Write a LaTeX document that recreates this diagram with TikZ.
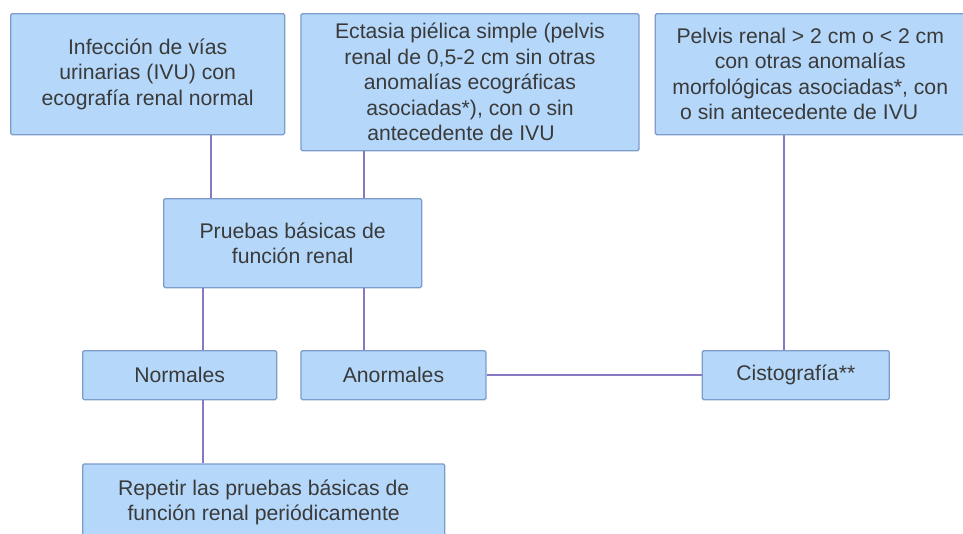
\documentclass[tikz,border=0pt]{standalone}
\usepackage{fontspec}
\setmainfont{Liberation Sans}
\usetikzlibrary{positioning}
\definecolor{boxFill}{HTML}{B5D8FA}
\definecolor{boxEdge}{HTML}{7C9CCB}
\definecolor{linkPurple}{HTML}{8878C3}
\definecolor{textGrey}{HTML}{3A3A3A}

\begin{document}
\begin{tikzpicture}[
    x=1pt, y=1pt,
    every node/.style={font=\fontsize{21.2}{25.5}\selectfont, text=textGrey},
    box/.style={rectangle, draw=boxEdge, line width=1.3pt, fill=boxFill, rounded corners=1.5pt, align=center, inner sep=2pt, anchor=north west},
    link/.style={draw=linkPurple, line width=2pt}
  ]
  \useasboundingbox (0,0) rectangle (963,-533);

  % Nodos
  \node[box, minimum width=274pt, minimum height=121pt] (infeccion) at (10,-13) {Infección de vías\\ urinarias (IVU) con\\ ecografía renal normal};
  \node[box, minimum width=338pt, minimum height=137pt, right=15pt of infeccion.north east, anchor=north west] (ectasia) {Ectasia piélica simple (pelvis\\ renal de 0,5-2 cm sin otras\\ anomalías ecográficas\\ asociadas*), con o sin\\ antecedente de IVU\hspace*{18pt}};
  \node[box, minimum width=310pt, minimum height=121pt, right=15pt of ectasia.north east, anchor=north west] (pelvis) {Pelvis renal > 2 cm o < 2 cm\\ con otras anomalías\\ morfológicas asociadas*, con\\ o sin antecedente de IVU\hspace*{22pt}};
  \node[box, minimum width=258pt, minimum height=89pt] (pruebas) at (163,-198) {Pruebas básicas de\\ función renal};
  \node[box, minimum width=194pt, minimum height=49pt] (normales) at (82,-350) {Normales};
  \node[box, minimum width=185pt, minimum height=49pt, right=23pt of normales.north east, anchor=north west] (anormales) {Anormales};
  \node[box, minimum width=187pt, minimum height=49pt, right=215pt of anormales.north east, anchor=north west] (cisto) {Cistografía**};
  \node[box, minimum width=362pt, minimum height=77pt, below=63pt of normales.south west, anchor=north west] (repetir) {Repetir las pruebas básicas de\\ función renal periódicamente};

  % Conectores
  \coordinate (c1) at ([xshift=201pt]infeccion.south west);
  \coordinate (c2) at ([xshift=64pt]ectasia.south west);
  \coordinate (c3) at ([xshift=40pt]pruebas.south west);
  \coordinate (c4) at ([xshift=129pt]pelvis.south west);
  \draw[link] (c1) -- (c1 |- pruebas.north);
  \draw[link] (c2) -- (c2 |- pruebas.north);
  \draw[link] (c3) -- (c3 |- normales.north);
  \draw[link] (c2 |- pruebas.south) -- (c2 |- anormales.north);
  \draw[link] (c3 |- normales.south) -- (c3 |- repetir.north);
  \draw[link] (anormales) -- (cisto);
  \draw[link] (c4) -- (c4 |- cisto.north);
\end{tikzpicture}
\end{document}
